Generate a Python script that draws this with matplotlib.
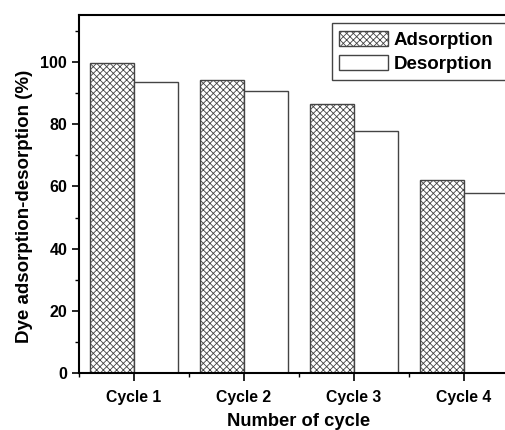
import matplotlib.pyplot as plt
import numpy as np
from matplotlib.ticker import MultipleLocator

plt.rcParams['font.family'] = ['Liberation Sans', 'DejaVu Sans']
plt.rcParams['font.weight'] = 'bold'
plt.rcParams['hatch.color'] = '#444444'
plt.rcParams['hatch.linewidth'] = 0.6

cycles = ['Cycle 1', 'Cycle 2', 'Cycle 3', 'Cycle 4']
adsorption = [99.5, 94.0, 86.3, 62.0]
desorption = [93.5, 90.7, 77.9, 57.8]

x = np.arange(1, len(cycles) + 1)
w = 0.4

fig = plt.figure(figsize=(5.06, 4.30), dpi=100)
ax = fig.add_axes([79/506, 1-373.3/430, 440/506, 358.3/430])

ax.bar(x - w/2, adsorption, w, color='white', edgecolor='#444444', hatch='xxxxx', linewidth=1, label='Adsorption')
ax.bar(x + w/2, desorption, w, color='white', edgecolor='#444444', linewidth=1, label='Desorption')

ax.set_xlim(0.5, 4.5)
ax.set_ylim(0, 115)
ax.set_xticks(x)
ax.set_xticklabels(cycles, fontsize=11.3, fontweight='bold')
ax.xaxis.set_minor_locator(MultipleLocator(0.5))
ax.yaxis.set_major_locator(MultipleLocator(20))
ax.yaxis.set_minor_locator(MultipleLocator(10))
ax.tick_params(axis='y', labelsize=11.5, width=1.2, length=5)
ax.tick_params(axis='x', width=1.2, length=6, pad=6)
ax.tick_params(which='minor', width=1, length=3)
for t in ax.get_yticklabels():
    t.set_fontweight('bold')
for s in ax.spines.values():
    s.set_linewidth(1.5)

ax.set_xlabel('Number of cycle', fontsize=13.2, fontweight='bold')
ax.set_ylabel('Dye adsorption-desorption (%)', fontsize=13.5, fontweight='bold')
ax.xaxis.set_label_coords(0.498, -0.111)
ax.yaxis.set_label_coords(-0.105, 0.467)

# legend box runs past the right edge of the picture, as in the reference
x0, y1 = 331.7/506, 1-23.3/430
leg = ax.legend(loc='upper left', bbox_to_anchor=(x0, y1 - 0.2, 520/506 - x0, 0.2), bbox_transform=fig.transFigure,
                mode='expand', borderaxespad=0, fancybox=False, edgecolor='#444444', framealpha=1,
                prop={'weight': 'bold', 'size': 13.5}, handlelength=2.6, handleheight=0.9,
                labelspacing=0.3, handletextpad=0.32, borderpad=0.4)
leg.get_frame().set_linewidth(1)

fig.savefig('out.png', dpi=100)
